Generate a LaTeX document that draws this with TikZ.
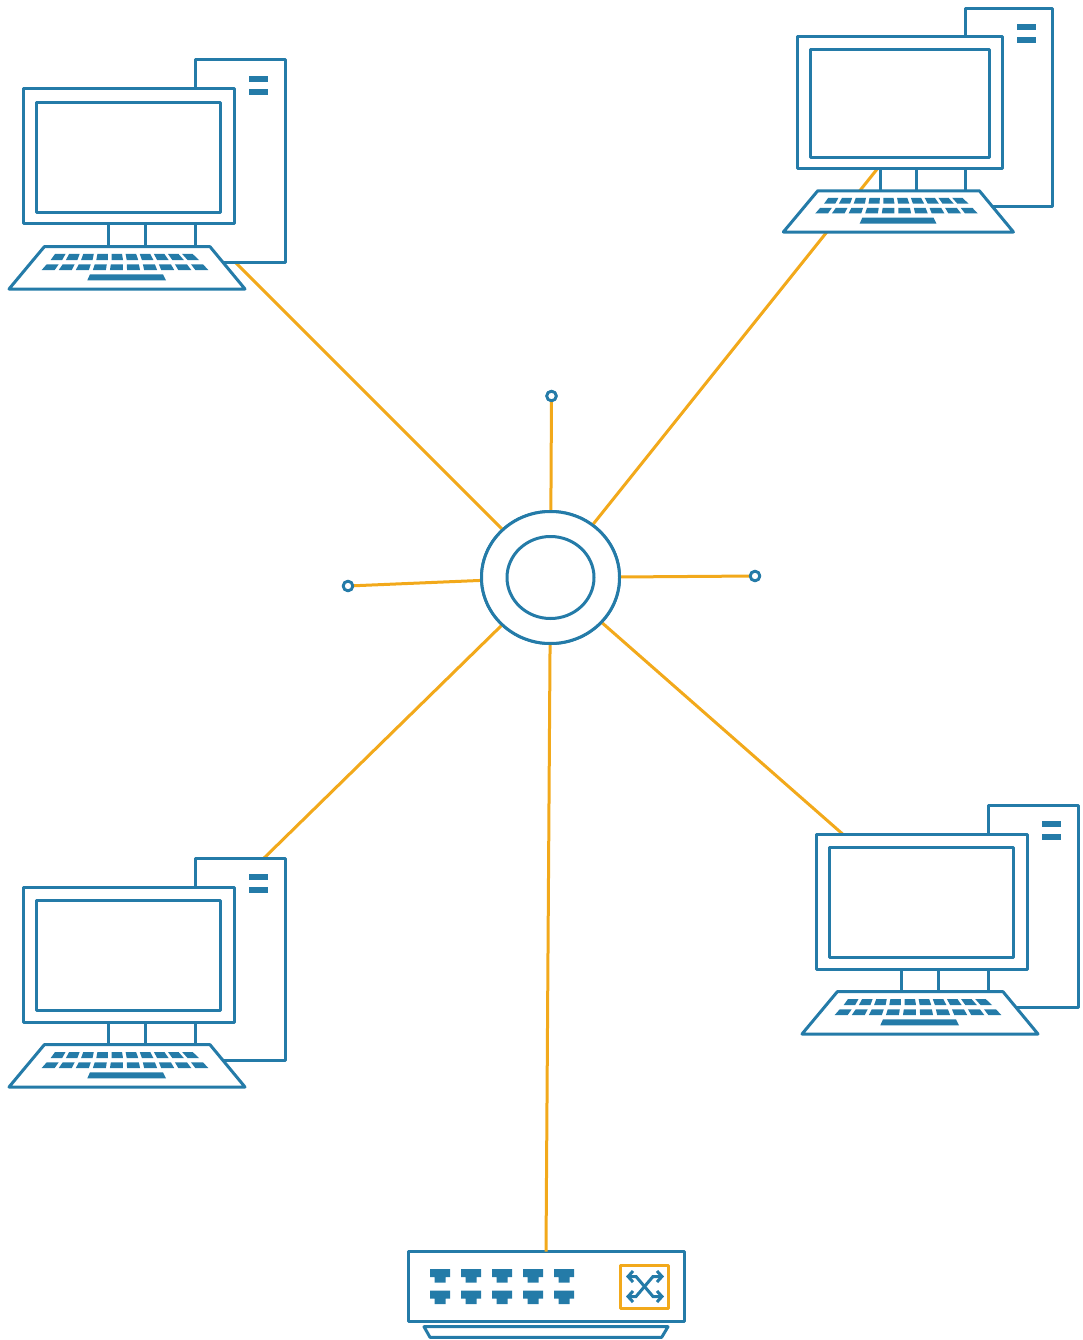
\documentclass[tikz,border=0pt]{standalone}
\usepackage{xcolor}
\usetikzlibrary{arrows.meta,shapes.geometric}
\definecolor{netblue}{HTML}{247BA8}
\definecolor{netorange}{HTML}{F2A91B}

\tikzset{
  outline/.style={draw=netblue, line width=3pt, line join=round, fill=white},
  bare/.style={draw=netblue, line width=3pt},
  solid key/.style={fill=netblue, draw=none},
  link/.style={draw=netorange, line width=3pt},
  crossarrow/.style={draw=netblue, line width=3pt, {Straight Barb[length=5pt,width=11pt]}-{Straight Barb[length=5pt,width=11pt]}},
  hubring/.style={ellipse, outline, inner sep=0pt, outer sep=0pt},
  stub/.style={circle, outline, line width=2.8pt, inner sep=0pt, outer sep=0pt, minimum size=9.5pt},
  % one desktop: origin is the top left corner of the monitor
  pics/computer/.style={code={
    % Tower
    \draw[outline] (172.7,-29) rectangle (262,173.6);
    \fill[solid key] (226,-13.3) rectangle (245,-6.7);
    \fill[solid key] (226,-0.3) rectangle (245,6.3);
    % Stand
    \draw[bare] (85.7,135) -- (85.7,157.7);
    \draw[bare] (122.7,135) -- (122.7,157.7);
    \draw[bare] (172.7,135) -- (172.7,157.7);
    % Monitor
    \draw[outline] (0,0) rectangle (211,135);
    \draw[outline] (13.5,13.3) rectangle (197.7,123.3);
    % Keyboard
    \draw[outline] (21.3,157.7) -- (187,157.7) -- (222,200) -- (-14,200) -- cycle;
    \foreach \k in {0,...,9} {
      \pgfmathsetmacro{\ta}{32+14.13*\k}
      \pgfmathsetmacro{\tb}{\ta+10.5}
      \pgfmathsetmacro{\ba}{27.7+15.2*\k}
      \pgfmathsetmacro{\bb}{\ba+11.5}
      \fill[solid key] (\ta,165) -- (\tb,165) -- (\bb,171) -- (\ba,171) -- cycle;
      \pgfmathsetmacro{\ta}{23.7+16.03*\k}
      \pgfmathsetmacro{\tb}{\ta+12}
      \pgfmathsetmacro{\ba}{18.7+17.07*\k}
      \pgfmathsetmacro{\bb}{\ba+13}
      \fill[solid key] (\ta,175.3) -- (\tb,175.3) -- (\bb,181) -- (\ba,181) -- cycle;
    }
    \fill[solid key] (67,185.3) -- (140,185.3) -- (143,191.3) -- (64.3,191.3) -- cycle;
  }},
  % one network port: origin is the top left corner
  pics/port/.style={code={
    \fill[solid key] (0,0) -- (20,0) -- (20,8) -- (15.5,8) -- (15.5,13.5) -- (4.5,13.5) -- (4.5,8) -- (0,8) -- cycle;
  }}
}

\begin{document}
\begin{tikzpicture}[x=1pt, y=-1pt]
  \useasboundingbox (0,0) rectangle (1083,1340);

  % Hub and stubs
  \node[hubring, minimum width=138pt, minimum height=132pt] (hub) at (550.5,577.5) {};
  \node[stub] (stubN) at (551.5,396) {};
  \node[stub] (stubW) at (348,586) {};
  \node[stub] (stubE) at (755,576) {};

  % Switch
  \node[rectangle, outline, inner sep=0pt, outer sep=0pt, minimum width=276pt, minimum height=70pt] (switch) at (546,1286.7) {};

  % Ends of the links, under the computers
  \coordinate (pcNW) at (230,257);
  \coordinate (pcNE) at (880,165.5);
  \coordinate (pcSW) at (260,862);
  \coordinate (pcSE) at (846,837);

  % Links
  \draw[link] (hub) -- (pcNW);
  \draw[link] (hub) -- (pcNE);
  \draw[link] (hub) -- (pcSW);
  \draw[link] (hub) -- (pcSE);
  \draw[link] (hub) -- (stubN);
  \draw[link] (hub) -- (stubW);
  \draw[link] (hub) -- (stubE);
  \draw[link] (hub) -- (switch.north);

  % Redraw on top of the links
  \node[hubring, minimum width=138pt, minimum height=132pt] (hubouter) at (hub) {};
  \node[hubring, minimum width=87pt, minimum height=82pt] (hubcore) at (hub) {};
  \node[stub] (stubNtop) at (stubN) {};
  \node[stub] (stubWtop) at (stubW) {};
  \node[stub] (stubEtop) at (stubE) {};

  % Computers
  \pic at (23,89) {computer};
  \pic[scale=.975] at (797,37) {computer};
  \pic at (23,887) {computer};
  \pic at (816,834) {computer};

  % Switch details
  \draw[outline] (424,1326.7) -- (668,1326.7) -- (661.7,1337.3) -- (430,1337.3) -- cycle;
  \foreach \c in {0,...,4} {
    \pic at (430+31*\c,1269) {port};
    \pic at (430+31*\c,1290.7) {port};
  }
  \draw[draw=netorange, line width=3pt, line join=round] (620.5,1265) rectangle (668.3,1308.3);
  \draw[crossarrow] (626,1276.5) -- (636,1276.5) -- (653,1296.5) -- (664,1296.5);
  \draw[crossarrow] (626,1296.5) -- (636,1296.5) -- (653,1276.5) -- (664,1276.5);
\end{tikzpicture}
\end{document}
